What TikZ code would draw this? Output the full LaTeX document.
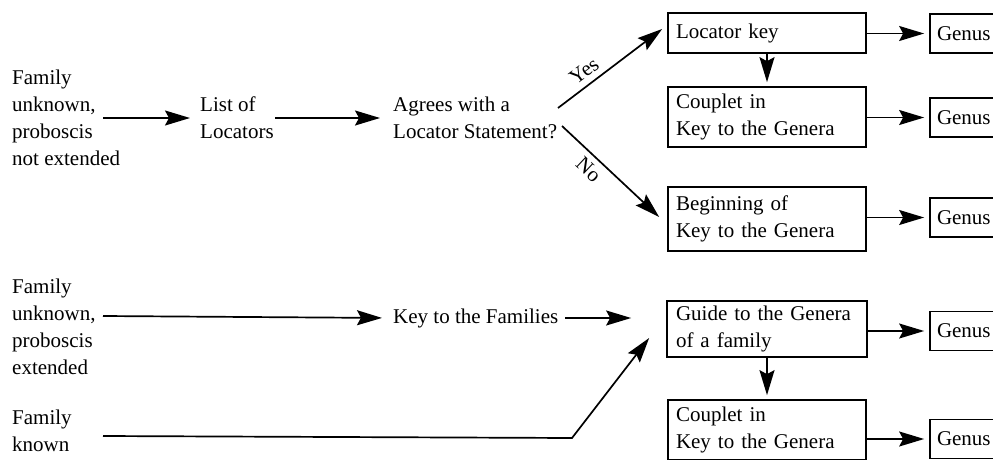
\documentclass[tikz,border=0pt]{standalone}
\usepackage{fontspec}
\setmainfont{Liberation Serif}
\usetikzlibrary{arrows.meta,calc}
\begin{document}
\begin{tikzpicture}[x=1pt,y=-1pt,
  txt/.style={inner sep=0pt,anchor=west,align=left,font=\fontsize{21}{27}\selectfont},
  boxnode/.style={draw,line width=1.7pt,inner sep=0pt,minimum width=198pt,text width=182pt,align=left,font=\fontsize{21}{27}\selectfont},
  genusbox/.style={draw,line width=1.7pt,inner sep=0pt,minimum width=70pt,minimum height=39pt,text width=56pt,align=left,font=\fontsize{21}{27}\selectfont},
  arr/.style={line width=1.7pt,-{Stealth[length=25pt,width=15pt,inset=4pt]}},
  lbl/.style={font=\fontsize{21}{27}\selectfont,inner sep=6pt}
]
\useasboundingbox (0,0) rectangle (993,460);
\clip (0,0) rectangle (993,460);

% left texts
\node[txt] (fam1) at (12,118) {Family\\unknown,\\proboscis\\not extended};
\node[txt] (list) at (200,118) {List of\\Locators};
\node[txt] (agree) at (393,118) {Agrees with a\\Locator Statement?};
\node[txt] (fam2) at (12,327) {Family\\unknown,\\proboscis\\extended};
\node[txt] (keyfam) at (393,318) {Key to the Families};
\node[txt] (fam3) at (12,431) {Family\\known};

% boxes
\node[boxnode,minimum height=40pt] (lockey) at (767,33) {Locator key};
\node[boxnode,minimum height=60pt] (coup1) at (767,117) {Couplet in\\Key to the Genera};
\node[boxnode,minimum height=64pt] (begin) at (767,219) {Beginning of\\Key to the Genera};
\node[boxnode,minimum height=56pt,minimum width=200pt] (guide) at (767,329) {Guide to the Genera\\of a family};
\node[boxnode,minimum height=60pt] (coup2) at (767,430) {Couplet in\\Key to the Genera};

% genus boxes
\node[genusbox] (g1) at (965,33.5) {Genus};
\node[genusbox] (g2) at (965,117.5) {Genus};
\node[genusbox] (g3) at (965,217.5) {Genus};
\node[genusbox] (g4) at (965,331) {Genus};
\node[genusbox] (g5) at (965,439) {Genus};

% coordinates for free ends
\coordinate (a1s) at (103,118);
\coordinate (a2s) at (275,118);
\coordinate (yesS) at (558,108);
\coordinate (noS) at (562,126);
\coordinate (k1s) at (103,316);
\coordinate (kS) at (103,436);
\coordinate (kC) at (572,438);

% connectors
\draw[arr,shorten >=10pt] (a1s) -- (list.west);
\draw[arr,shorten >=13pt] (a2s) -- (agree.west);
\draw[arr] (yesS) -- node[lbl,pos=0.33,above,sloped] {Yes} ([shift={(-5,-4)}]lockey.west);
\draw[arr] (noS) -- node[lbl,pos=0.37,below,sloped] {No} ([shift={(-8,-2)}]begin.west);
\draw[arr,shorten >=11pt] (k1s) -- (keyfam.west);
\draw[arr,shorten <=7pt,shorten >=35pt] (keyfam.east) -- (keyfam.east -| guide.west);
\draw[arr] (kS) -- (kC) -- ([shift={(-17,9)}]guide.west);

\draw[arr,shorten >=5pt] (lockey.east |- g1.west) -- (g1.west);
\draw[arr,shorten >=5pt] (coup1.east |- g2.west) -- (g2.west);
\draw[arr,shorten >=5pt] (begin.east |- g3.west) -- (g3.west);
\draw[arr,shorten >=5pt] (guide.east |- g4.west) -- (g4.west);
\draw[arr,shorten >=5pt] (coup2.east |- g5.west) -- (g5.west);

\draw[arr,shorten >=4pt] (lockey.south) -- (coup1.north);
\draw[arr,shorten >=4pt] (guide.south) -- (coup2.north);
\end{tikzpicture}
\end{document}
